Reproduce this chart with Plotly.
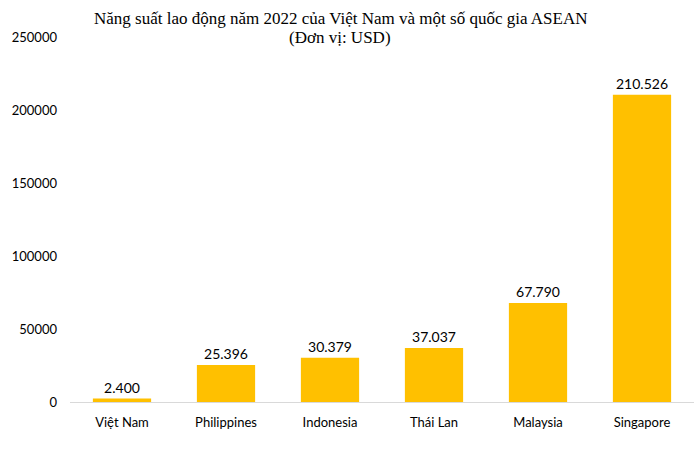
import plotly.graph_objects as go

countries = ["Việt Nam", "Philippines", "Indonesia", "Thái Lan", "Malaysia", "Singapore"]
productivity = [2400, 25396, 30379, 37037, 67790, 210526]
value_labels = ["2.400", "25.396", "30.379", "37.037", "67.790", "210.526"]
y_ticks = [0, 50000, 100000, 150000, 200000, 250000]

fig = go.Figure(go.Bar(
    x=countries, y=productivity,
    text=value_labels, textposition="outside", cliponaxis=False,
    textfont=dict(family="Lato, Open Sans, sans-serif", size=14, color="#000000"),
    marker=dict(color="#FFC000", line=dict(width=0)),
))

fig.update_layout(
    width=700, height=453,
    margin=dict(l=70, r=6, t=37, b=51),
    paper_bgcolor="white", plot_bgcolor="white",
    bargap=0.44,
    showlegend=False,
    font=dict(family="Lato, Open Sans, sans-serif", size=13, color="#000000"),
)
title_font = dict(family="Liberation Serif, Times New Roman, serif", size=17, color="#000000")
cx = (340 - 70) / (700 - 70 - 6)
fig.add_annotation(
    text="Năng suất lao động năm 2022 của Việt Nam và một số quốc gia ASEAN",
    xref="paper", yref="paper", x=cx, y=1.0 + 19 / 365,
    xanchor="center", yanchor="middle", showarrow=False, font=title_font,
)
fig.add_annotation(
    text="(Đơn vị: USD)",
    xref="paper", yref="paper", x=cx, y=1.0 - 1 / 365,
    xanchor="center", yanchor="middle", showarrow=False, font=title_font,
)
fig.update_yaxes(
    range=[0, 250000], tickvals=y_ticks, ticktext=[str(v) for v in y_ticks],
    showgrid=False, zeroline=False, showline=False, ticks="", ticklen=0,
    tickfont=dict(size=13), automargin=False, ticklabelstandoff=12,
)
fig.update_xaxes(
    showline=True, linecolor="#D9D9D9", linewidth=1, ticks="", showgrid=False,
    tickfont=dict(size=13), automargin=False, ticklabelstandoff=8,
)

fig.write_html("out.html")
